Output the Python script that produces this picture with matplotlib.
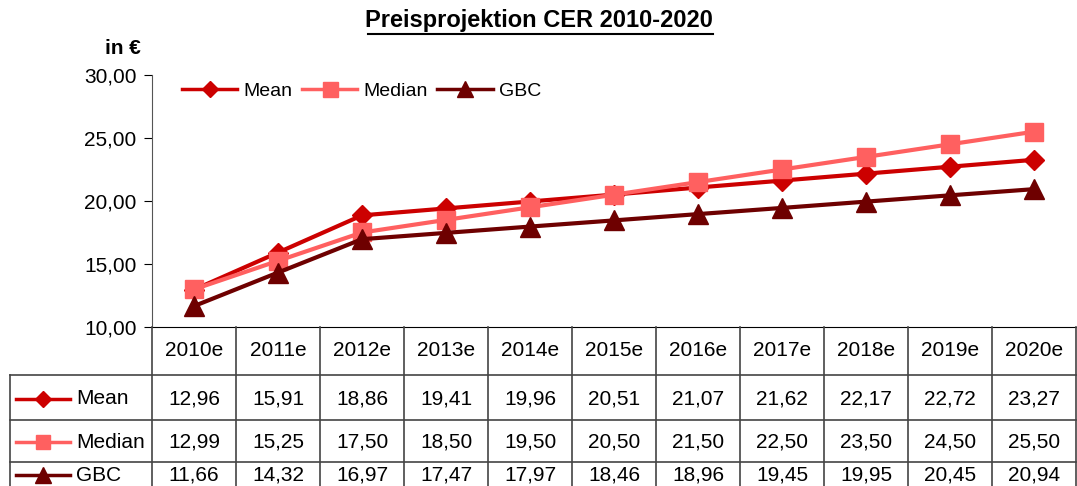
import matplotlib.pyplot as plt
import matplotlib.transforms as mtransforms
from matplotlib.lines import Line2D

plt.rcParams['font.family'] = ['Liberation Sans', 'DejaVu Sans']

jahre = ['2010e', '2011e', '2012e', '2013e', '2014e', '2015e',
         '2016e', '2017e', '2018e', '2019e', '2020e']
mean = [12.96, 15.91, 18.86, 19.41, 19.96, 20.51, 21.07, 21.62, 22.17, 22.72, 23.27]
median = [12.99, 15.25, 17.50, 18.50, 19.50, 20.50, 21.50, 22.50, 23.50, 24.50, 25.50]
gbc = [11.66, 14.32, 16.97, 17.47, 17.97, 18.46, 18.96, 19.45, 19.95, 20.45, 20.94]

serien = [('Mean', mean, '#CC0000', 'D', 10.5),
          ('Median', median, '#FF6060', 's', 13.5),
          ('GBC', gbc, '#6E0000', '^', 15)]

W, H = 1077, 486
fig = plt.figure(figsize=(W / 100, H / 100), dpi=100)

# plotbereich in pixeln
x0, x1 = 152, 1076
y_top, y_bot = 75, 327
ax = fig.add_axes([x0 / W, 1 - y_bot / H, (x1 - x0) / W, (y_bot - y_top) / H])

x = list(range(len(jahre)))
for name, werte, farbe, marker, ms in serien:
    ax.plot(x, werte, color=farbe, lw=3, marker=marker, ms=ms, label=name)

ax.set_xlim(-0.5, len(jahre) - 0.5)
ax.set_ylim(10, 30)
ax.set_yticks([10, 15, 20, 25, 30])
ax.yaxis.set_major_formatter(plt.FuncFormatter(lambda v, p: ('%.2f' % v).replace('.', ',')))
ax.tick_params(axis='y', labelsize=15, length=6, direction='out', pad=5)
ax.set_xticks([])
ax.spines['top'].set_visible(False)
ax.spines['right'].set_visible(False)
ax.spines['left'].set_color('#555555')

# legende mit kleineren markern wie im original
handles = [Line2D([], [], color=f, lw=2.5, marker=m, ms=s * 0.8) for _, _, f, m, s in serien]
ax.legend(handles, [s[0] for s in serien], loc='center left', ncol=3, frameon=False,
          fontsize=14, bbox_to_anchor=(182 / W, 1 - 91 / H), bbox_transform=fig.transFigure,
          borderaxespad=0, borderpad=0, handlelength=2.85,
          columnspacing=0.5, handletextpad=0.3)

fig.text(0.5, 1 - 20 / H, 'Preisprojektion CER 2010-2020', ha='center', va='center',
         fontsize=17, fontweight='bold')
# unterstrich vom titel
fig.add_artist(Line2D([368 / W, 713 / W], [1 - 34 / H, 1 - 34 / H], color='black', lw=1.5))
fig.text(141 / W, 1 - 48 / H, 'in €', ha='right', va='center', fontsize=15, fontweight='bold')

# tabelle unter dem diagramm
trans = mtransforms.blended_transform_factory(ax.transData, fig.transFigure)
def fy(py):
    return 1 - py / H

zeilen_y = [327, 375, 420, 462, 486]
lc = '#444444'
for i in range(len(jahre) + 1):
    fig.add_artist(Line2D([i - 0.5, i - 0.5], [fy(327), fy(486)], color=lc, lw=1.2,
                          transform=trans))
for yy in zeilen_y[1:4]:
    fig.add_artist(Line2D([10 / W, x1 / W], [fy(yy), fy(yy)], color=lc, lw=1.2))
fig.add_artist(Line2D([10 / W, 10 / W], [fy(375), 0], color=lc, lw=1.2))

for i, j in enumerate(jahre):
    fig.text(i, fy(351), j, transform=trans, ha='center', va='center', fontsize=15)

for r, (name, werte, farbe, marker, ms) in enumerate(serien):
    yc = fy((zeilen_y[r + 1] + zeilen_y[r + 2]) / 2 + 1)
    fig.add_artist(Line2D([16 / W, 70 / W], [yc, yc], color=farbe, lw=2.5))
    fig.add_artist(Line2D([43 / W], [yc], color=farbe, marker=marker, ms=ms * 0.75))
    fig.text(76 / W, yc, name, ha='left', va='center', fontsize=15)
    for i, v in enumerate(werte):
        fig.text(i, yc, ('%.2f' % v).replace('.', ','), transform=trans,
                 ha='center', va='center', fontsize=15)

fig.savefig('out.png', dpi=100)
